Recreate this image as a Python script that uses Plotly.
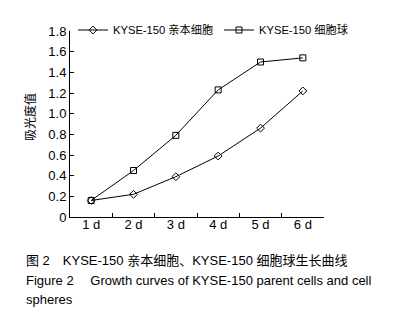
import plotly.graph_objects as go

days = ["1 d", "2 d", "3 d", "4 d", "5 d", "6 d"]
parent_vals = [0.16, 0.22, 0.39, 0.59, 0.86, 1.22]
sphere_vals = [0.16, 0.45, 0.79, 1.23, 1.50, 1.54]
y_ticks = [0, 0.2, 0.4, 0.6, 0.8, 1.0, 1.2, 1.4, 1.6, 1.8]
y_ticktext = ["0", "0.2", "0.4", "0.6", "0.8", "1.0", "1.2", "1.4", "1.6", "1.8"]

FONT = "Liberation Sans, Arial, Noto Sans CJK SC, sans-serif"

W, H = 404, 317
L, R, T, B = 62, 316, 23, 209

def px_x(px):
    return (px - L) / (R - L)

def px_y(py):
    return (B - py) / (B - T)

fig = go.Figure()
fig.add_trace(go.Scatter(
    x=days, y=parent_vals, mode="lines+markers", name="KYSE-150 亲本细胞",
    line=dict(color="black", width=1),
    marker=dict(symbol="diamond-open", size=6, color="black", line=dict(width=1)),
    legend="legend",
))
fig.add_trace(go.Scatter(
    x=days, y=sphere_vals, mode="lines+markers", name="KYSE-150 细胞球",
    line=dict(color="black", width=1),
    marker=dict(symbol="square-open", size=6, color="black", line=dict(width=1)),
    legend="legend2",
))

leg_common = dict(orientation="h", xanchor="left", y=px_y(22), yanchor="middle",
                  bgcolor="rgba(0,0,0,0)", font=dict(size=11.2), itemwidth=30,
                  borderwidth=0)

fig.update_layout(
    width=W, height=H,
    margin=dict(l=L, r=W - R, t=T, b=H - B, pad=0, autoexpand=False),
    paper_bgcolor="white", plot_bgcolor="white",
    font=dict(family=FONT, size=13, color="black"),
    showlegend=True,
    legend=dict(x=px_x(65), **leg_common),
    legend2=dict(x=px_x(211), **leg_common),
    xaxis=dict(type="category", range=[-0.5, 5.5], tickson="boundaries",
               ticks="inside", ticklen=4, tickcolor="black", tickwidth=1,
               showline=True, linecolor="black", linewidth=1, showgrid=False,
               zeroline=False, tickfont=dict(size=13), fixedrange=True,
               ticklabelstandoff=-5),
    yaxis=dict(range=[0, 1.8], tickvals=y_ticks, ticktext=y_ticktext,
               ticks="inside", ticklen=4, tickcolor="black", tickwidth=1,
               showline=True, linecolor="black", linewidth=1, showgrid=False,
               zeroline=False, tickfont=dict(size=13), fixedrange=True),
)

fig.add_annotation(text="吸光度值", textangle=-90, xref="paper", yref="paper",
                   x=px_x(21), y=px_y(109), xanchor="center", yanchor="middle",
                   showarrow=False, font=dict(size=12, family="Noto Sans CJK SC"))

captions = [
    ("图 2\u3000KYSE-150 亲本细胞、KYSE-150 细胞球生长曲线", 252),
    ("Figure 2\u2003 Growth curves of KYSE-150 parent cells and cell", 272),
    ("spheres", 291),
]
for txt, yy in captions:
    fig.add_annotation(text=txt, xref="paper", yref="paper",
                       x=px_x(16), y=px_y(yy), xanchor="left", yanchor="middle",
                       showarrow=False, font=dict(size=13, family=FONT))

fig.write_html("out.html")
